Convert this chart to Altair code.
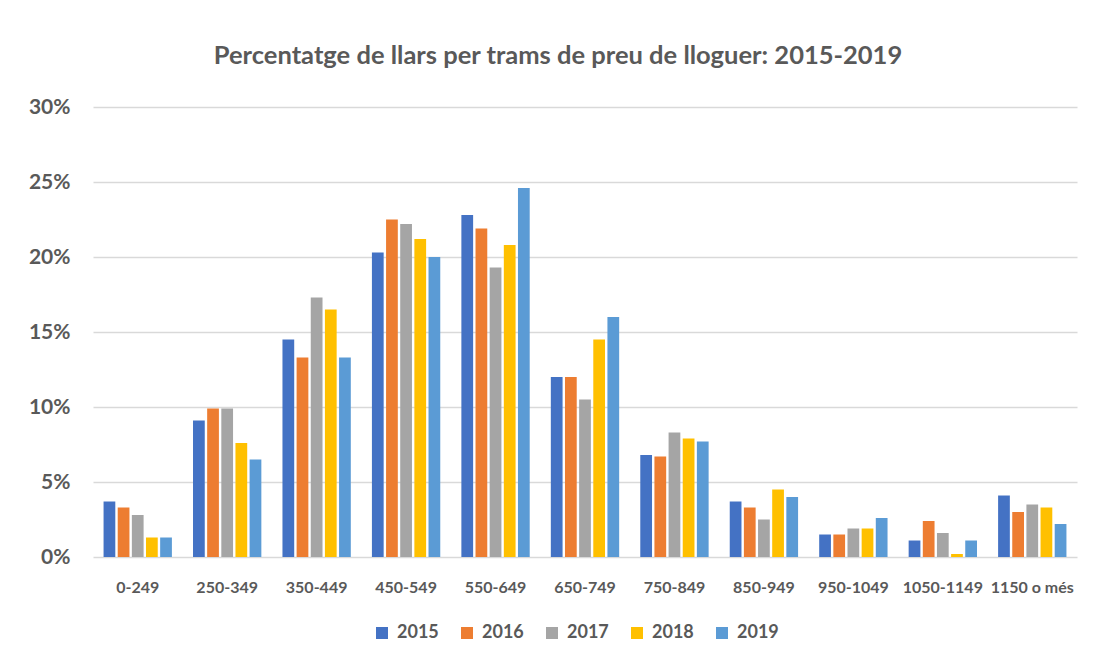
import altair as alt
import pandas as pd

categories = ["0-249", "250-349", "350-449", "450-549", "550-649", "650-749",
              "750-849", "850-949", "950-1049", "1050-1149", "1150 o més"]
years = ["2015", "2016", "2017", "2018", "2019"]
v2015 = [3.7, 9.1, 14.5, 20.3, 22.8, 12.0, 6.8, 3.7, 1.5, 1.1, 4.1]
v2016 = [3.3, 9.9, 13.3, 22.5, 21.9, 12.0, 6.7, 3.3, 1.5, 2.4, 3.0]
v2017 = [2.8, 9.9, 17.3, 22.2, 19.3, 10.5, 8.3, 2.5, 1.9, 1.6, 3.5]
v2018 = [1.3, 7.6, 16.5, 21.2, 20.8, 14.5, 7.9, 4.5, 1.9, 0.2, 3.3]
v2019 = [1.3, 6.5, 13.3, 20.0, 24.6, 16.0, 7.7, 4.0, 2.6, 1.1, 2.2]
colors = ["#4472C4", "#ED7D31", "#A5A5A5", "#FFC000", "#5B9BD5"]
y_ticks = [0, 5, 10, 15, 20, 25, 30]

series = [v2015, v2016, v2017, v2018, v2019]
rows = []
for yr, vals in zip(years, series):
    for c, v in zip(categories, vals):
        rows.append({"tram": c, "any": yr, "pct": v})
df = pd.DataFrame(rows)

FONT = "Lato"
GREY = "#595959"

chart = alt.Chart(df).mark_bar().encode(
    x=alt.X("tram:N", sort=categories,
            scale=alt.Scale(paddingInner=0.236, paddingOuter=0.118),
            axis=alt.Axis(title=None, labelAngle=0, labelFont=FONT, labelFontSize=16,
                          labelFontWeight="bold", labelColor=GREY, ticks=False,
                          domain=False, labelPadding=22, grid=False)),
    xOffset=alt.XOffset("any:N", sort=years, scale=alt.Scale(paddingInner=0.17)),
    y=alt.Y("pct:Q", scale=alt.Scale(domain=[0, 30], nice=False),
            axis=alt.Axis(title=None, values=y_ticks, labelExpr="datum.value + '%'",
                          labelFont=FONT, labelFontSize=21, labelFontWeight="bold",
                          labelColor=GREY, ticks=False, domain=False, labelPadding=23,
                          grid=True, gridColor="#d9d9d9", gridWidth=1.5)),
    color=alt.Color("any:N", sort=years,
                    scale=alt.Scale(domain=years, range=colors),
                    legend=alt.Legend(title=None, orient="none", direction="horizontal",
                                      legendX=280, legendY=517,
                                      symbolType="square", symbolSize=144,
                                      symbolStrokeWidth=0, labelFont=FONT,
                                      labelFontSize=18, labelFontWeight="bold",
                                      labelColor=GREY, labelOffset=6,
                                      columnPadding=19, padding=0)),
).properties(
    width=984,
    height=450,
    title=alt.TitleParams(
        "Percentatge de llars per trams de preu de lloguer: 2015-2019",
        font=FONT, fontSize=25.5, fontWeight="bold", color=GREY,
        anchor="middle", dx=-27, offset=27),
    padding={"left": 85, "top": 99, "right": 10, "bottom": 90},
    autosize=alt.AutoSizeParams(type="none"),
).configure(background="white").configure_view(stroke=None)

chart.save("out.html", embed_options={"renderer": "svg", "actions": False})
